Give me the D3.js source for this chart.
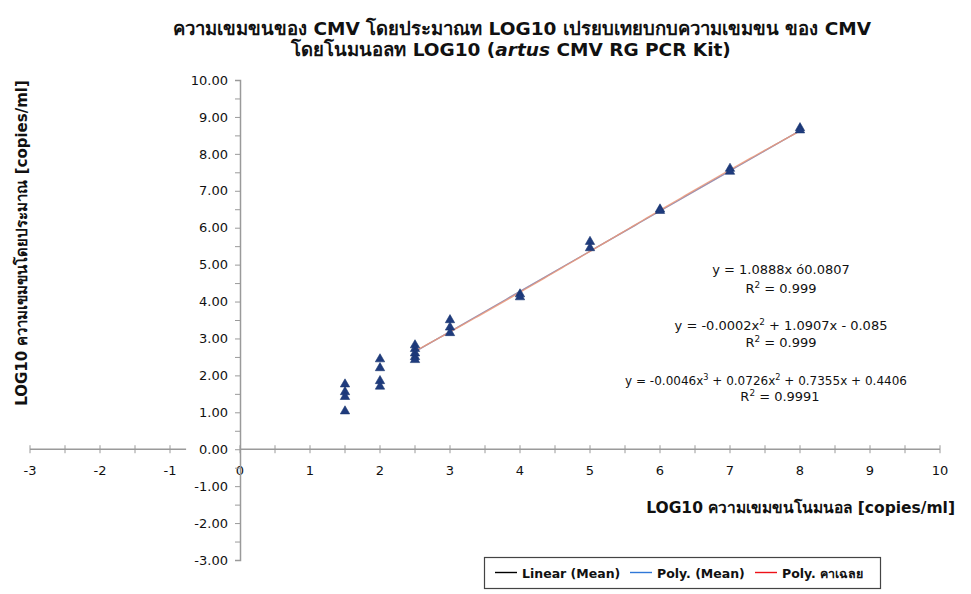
<!DOCTYPE html>
<html>
<head>
<meta charset="utf-8">
<script src="https://cdn.jsdelivr.net/npm/d3@7/dist/d3.min.js"></script>
<style>
  body { margin: 0; background: #fff; }
  svg text { font-family: Tahoma, "DejaVu Sans", "Noto Sans", sans-serif; }
</style>
</head>
<body>
<svg id="chart"></svg>
<script>
// measured data (x = nominal LOG10, y = estimated LOG10)
var pointsX = [1.5,1.5,1.5,1.5, 2,2,2,2, 2.5,2.5,2.5,2.5,2.5, 3,3,3, 4,4, 5,5, 6,6, 7,7, 8,8];
var pointsY = [1.76,1.55,1.42,1.03, 2.44,2.2,1.85,1.7, 2.82,2.72,2.6,2.5,2.42, 3.5,3.3,3.15, 4.2,4.12, 5.62,5.45, 6.5,6.46, 7.6,7.52, 8.7,8.64];

var xTicks = [-3,-2,-1,0,1,2,3,4,5,6,7,8,9,10];
var yTicks = [-3,-2,-1,0,1,2,3,4,5,6,7,8,9,10];

// trend lines from the fitted equations
var trendRange = [2.5, 8];
var linCoef = [-0.0807, 1.0888];
var quadCoef = [-0.085, 1.0907, -0.0002];
var cubCoef = [0.4406, 0.7355, 0.0726, -0.0046];

var legendNames = ["Linear (Mean)", "Poly. (Mean)", "Poly. คาเฉลย"];
var legendColors = ["#000000", "#2f78d8", "#ee1118"];

var W = 971, H = 594;
var svg = d3.select("#chart").attr("width", W).attr("height", H);

var x = d3.scaleLinear().domain([-3, 10]).range([30, 940]);
var y = d3.scaleLinear().domain([-3, 10]).range([560, 80]);

var axisCol = "#9a9a9a";

// title
var title = svg.append("text").attr("text-anchor", "middle")
  .attr("font-weight", "bold").attr("font-size", 18.5).attr("fill", "#111");
title.append("tspan").attr("x", 522).attr("y", 35)
  .text("ความเขมขนของ CMV โดยประมาณท LOG10 เปรยบเทยบกบความเขมขน ของ CMV");
var t2 = title.append("tspan").attr("x", 511).attr("y", 56);
t2.append("tspan").text("โดยโนมนอลท LOG10 (");
t2.append("tspan").attr("font-style", "italic").text("artus");
t2.append("tspan").text(" CMV RG PCR Kit)");

// x axis line (two segments, gap for 0.00 label)
var g = svg.append("g");
g.append("line").attr("x1", x(-3)).attr("x2", x(-0.77)).attr("y1", y(0)).attr("y2", y(0))
  .attr("stroke", axisCol).attr("stroke-width", 1.5);
g.append("line").attr("x1", x(0)).attr("x2", x(10)).attr("y1", y(0)).attr("y2", y(0))
  .attr("stroke", axisCol).attr("stroke-width", 1.5);
g.selectAll(".xt").data(d3.range(-3, 10.01, 0.5).filter(function(d){ return d < -0.9 || d >= 0; }))
  .enter().append("line")
  .attr("x1", function(d){ return x(d); }).attr("x2", function(d){ return x(d); })
  .attr("y1", y(0) - 4).attr("y2", y(0) + 4)
  .attr("stroke", axisCol);
g.selectAll(".xl").data(xTicks).enter().append("text")
  .attr("x", function(d){ return x(d); }).attr("y", y(0) + 26)
  .attr("text-anchor", "middle").attr("font-size", 13).attr("fill", "#111")
  .text(function(d){ return d; });

// y axis
var yAxis = d3.axisLeft(y).tickValues(d3.range(-3, 10.01, 0.5)).tickSize(5)
  .tickFormat(function(d){ return Number.isInteger(d) ? d.toFixed(2) : ""; });
var ya = svg.append("g").attr("transform", "translate(" + x(0) + ",0)").call(yAxis);
ya.select(".domain").attr("stroke", axisCol).attr("stroke-width", 1.5);
ya.selectAll(".tick line").attr("stroke", axisCol);
ya.selectAll(".tick text").attr("font-size", 13).attr("fill", "#111").attr("x", -12)
  .attr("font-family", 'Tahoma, "DejaVu Sans", sans-serif');

// trend lines
function poly(c) {
  return function(v) { var s = 0; for (var i = 0; i < c.length; i++) s += c[i] * Math.pow(v, i); return s; };
}
var xs = d3.range(trendRange[0], trendRange[1] + 0.001, 0.05);
var line = d3.line().x(function(d){ return x(d[0]); }).y(function(d){ return y(d[1]); });
[[linCoef, "#6a4050", 0.55], [quadCoef, "#7a8ad5", 0.4], [cubCoef, "#eb9878", 0.85]].forEach(function(t) {
  var f = poly(t[0]);
  svg.append("path").datum(xs.map(function(v){ return [v, f(v)]; }))
    .attr("d", line).attr("fill", "none").attr("stroke", t[1])
    .attr("stroke-opacity", t[2]).attr("stroke-width", 1.3);
});

// points
svg.selectAll(".pt").data(pointsX).enter().append("path")
  .attr("d", d3.symbol().type(d3.symbolTriangle).size(38))
  .attr("transform", function(d, i){ return "translate(" + x(d) + "," + y(pointsY[i]) + ")"; })
  .attr("fill", "#1f3b7d").attr("stroke", "#1a3570").attr("stroke-width", 0.6);

// equations
var eq = svg.append("g").attr("fill", "#111").attr("text-anchor", "middle");
function eqLine(cx, cy, fs, parts) {
  var t = eq.append("text").attr("x", cx).attr("y", cy).attr("font-size", fs);
  var back = false;
  parts.forEach(function(p) {
    if (typeof p === "object") {
      t.append("tspan").attr("font-size", fs * 0.68).attr("dy", -5).text(p.sup);
      back = true;
    } else {
      var s = t.append("tspan").text(p);
      if (back) { s.attr("dy", 5); back = false; }
    }
  });
}
eqLine(781, 274, 13, ["y = 1.0888x ó0.0807"]);
eqLine(781, 293, 13, ["R", {sup: "2"}, " = 0.999"]);
eqLine(781, 330, 13, ["y = -0.0002x", {sup: "2"}, " + 1.0907x - 0.085"]);
eqLine(781, 347, 13, ["R", {sup: "2"}, " = 0.999"]);
eqLine(766, 385, 12, ["y = -0.0046x", {sup: "3"}, " + 0.0726x", {sup: "2"}, " + 0.7355x + 0.4406"]);
eqLine(780, 401, 13, ["R", {sup: "2"}, " = 0.9991"]);

// axis titles
svg.append("text").attr("x", 955).attr("y", 513).attr("text-anchor", "end")
  .attr("font-size", 15.5).attr("font-weight", "bold").attr("fill", "#111")
  .text("LOG10 ความเขมขนโนมนอล [copies/ml]");
svg.append("text").attr("transform", "translate(27,243) rotate(-90)")
  .attr("text-anchor", "middle").attr("font-size", 15).attr("font-weight", "bold").attr("fill", "#111")
  .text("LOG10 ความเขมขนโดยประมาณ [copies/ml]");

// legend
var lg = svg.append("g");
lg.append("rect").attr("x", 484.5).attr("y", 557.5).attr("width", 396).attr("height", 31)
  .attr("fill", "#fff").attr("stroke", "#444").attr("stroke-width", 1.2);
var legX = [495, 630, 755];
legendNames.forEach(function(n, i) {
  lg.append("line").attr("x1", legX[i]).attr("x2", legX[i] + 22).attr("y1", 572.5).attr("y2", 572.5)
    .attr("stroke", legendColors[i]).attr("stroke-width", 1.4);
  lg.append("text").attr("x", legX[i] + 27).attr("y", 578).attr("font-size", 12.5)
    .attr("font-weight", "bold").attr("fill", "#111").text(n);
});
</script>
</body>
</html>
